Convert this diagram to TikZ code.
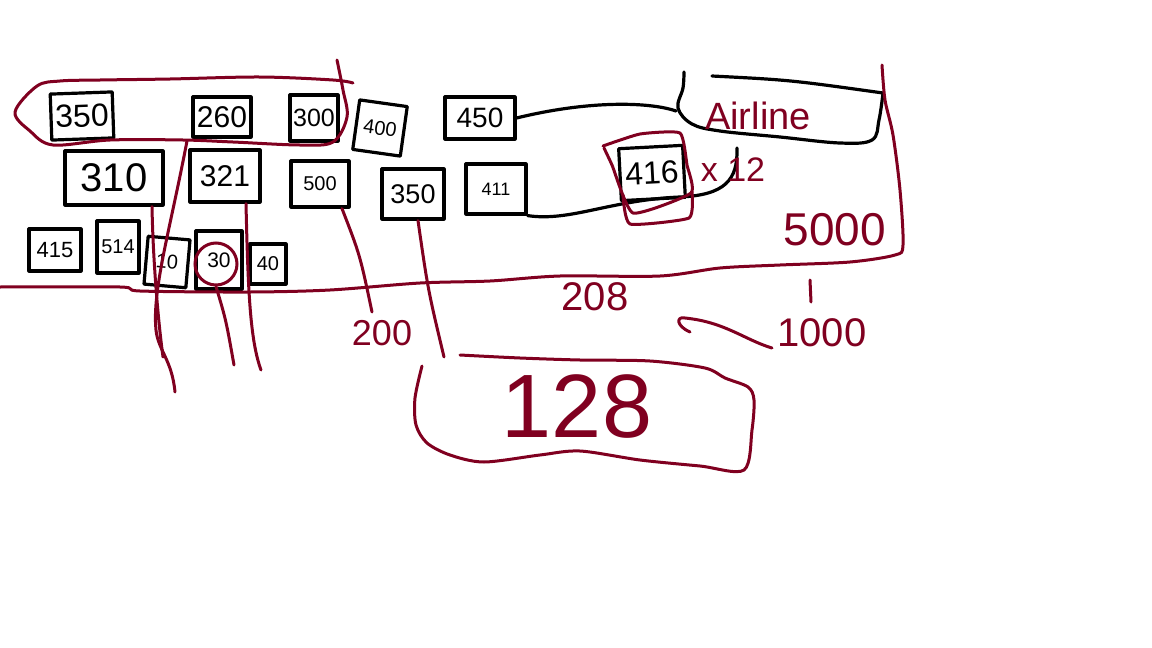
\documentclass[tikz,border=0pt]{standalone}
\usepackage{fontspec}
\setmainfont{Liberation Sans}
\usetikzlibrary{calc}
\definecolor{inkred}{RGB}{128,0,32}
\newcommand{\fs}[1]{\fontsize{#1}{#1}\selectfont}
\begin{document}
\begin{tikzpicture}[x=1pt,y=-1pt,
  box/.style={draw=black, line width=3.2pt, line join=round, inner sep=0pt},
  bink/.style={draw=black, line width=3.2pt, line cap=round, line join=round},
  rink/.style={draw=inkred, line width=3pt, line cap=round, line join=round},
  rlab/.style={text=inkred, inner sep=0pt}]
\useasboundingbox (0,0) rectangle (1152,648);
\fill[white] (0,0) rectangle (1152,648);

% black boxes
\node[box, minimum width=62pt, minimum height=46pt, rotate=2, font=\fs{32}] (b350a) at (82,116) {350};
\node[box, minimum width=58pt, minimum height=40pt, font=\fs{30}] (b260) at (222,117) {260};
\node[box, minimum width=48pt, minimum height=46pt, font=\fs{25}] (b300) at (314,118) {300};
\node[box, minimum width=48pt, minimum height=50pt, rotate=-8, font=\fs{20}] (b400) at (380,128) {400};
\node[box, minimum width=70pt, minimum height=42pt, font=\fs{28}] (b450) at (480,118) {450};
\node[box, minimum width=98pt, minimum height=54pt, font=\fs{40}] (b310) at (114,178) {310};
\node[box, minimum width=70pt, minimum height=52pt, font=\fs{30}] (b321) at (225,176) {321};
\node[box, minimum width=58pt, minimum height=46pt, font=\fs{20}] (b500) at (320,184) {500};
\node[box, minimum width=62pt, minimum height=50pt, font=\fs{27}] (b350b) at (413,194) {350};
\node[box, minimum width=60pt, minimum height=50pt, font=\fs{18}] (b411) at (496,189) {411};
\node[box, minimum width=64pt, minimum height=52pt, rotate=3, font=\fs{32}] (b416) at (652,173) {416};
\node[box, minimum width=52pt, minimum height=42pt, font=\fs{22}] (b415) at (55,250) {415};
\node[box, minimum width=42pt, minimum height=52pt, font=\fs{20}] (b514) at (118,247) {514};
\node[box, minimum width=42pt, minimum height=48pt, rotate=-5, font=\fs{20}] (b10) at (167,262) {10};
\node[box, minimum width=46pt, minimum height=58pt, font=\fs{21}] (b30) at (219,260) {30};
\node[box, minimum width=36pt, minimum height=40pt, font=\fs{20}] (b40) at (268,264) {40};

% Airline shape
\draw[bink] (712,76) .. controls (790,80) .. (883,93);
\draw[bink] plot[smooth, tension=0.6] coordinates {(883,93) (879,120) (872,140) (840,143) (780,137) (720,131) (692,124) (678,108) (683,88) (684,72)};
\node[rlab, font=\fs{38}] (airline) at (758,116) {Airline};
\coordinate (airL) at (676,111);
\coordinate (x12top) at (737,148);

% black connectors
\draw[bink] (b450.east) .. controls (590,100) and (650,102) .. (airL);
\draw[bink] (b411.south east) .. controls (570,222) and (610,200) .. (680,197) .. controls (725,195) and (738,180) .. (x12top);

% red loop around top group
\coordinate (loopB) at (187,141);
\draw[rink] plot[smooth, tension=0.55] coordinates {(353,83) (333,80) (260,77) (170,79) (100,80) (60,81) (37,86) (15,112) (30,131) (53,145) (110,140) (183,140) (233,142) (300,145) (333,142) (347,117) (343,90) (337,60)};

% red area boundary
\draw[rink] plot[smooth, tension=0.5] coordinates {(0,287) (120,287) (140,291) (250,292) (330,290) (420,283) (490,281) (560,276) (660,276) (720,268) (780,265) (850,262) (895,255) (903,245) (900,190) (893,135) (885,100) (882,65)};

% red box around 416
\draw[rink] plot[smooth, tension=0.3] coordinates {(603,146) (640,134) (680,133) (687,165) (691,193) (633,213) (612,165) (604,148)};
\draw[rink] plot[smooth, tension=0.3] coordinates {(623,195) (630,224) (689,218) (692,192)};

% red circle around 30
\node[draw=inkred, line width=3pt, circle, minimum size=42pt, inner sep=0pt] (r30) at (216,264) {};

% red down lines
\coordinate (c1) at (163,357);
\coordinate (c2) at (175,392);
\coordinate (c3) at (261,370);
\coordinate (c4) at (234,365);
\coordinate (c5) at (372,312);
\coordinate (c6) at (444,357);
\draw[rink] ($(b310.south)+(38,0)$) .. controls (153,260) and (158,320) .. (c1);
\draw[rink] (loopB) .. controls (170,230) and (152,290) .. (156,330) .. controls (158,350) and (172,360) .. (c2);
\draw[rink] ($(b321.south)+(21,0)$) .. controls (248,290) and (250,340) .. (c3);
\draw[rink] (r30.south) .. controls (226,320) .. (c4);
\draw[rink] ($(b500.south)+(22,0)$) .. controls (360,255) .. (c5);
\draw[rink] ($(b350b.south)+(5,0)$) .. controls (428,290) .. (c6);

% red labels
\node[rlab, font=\fs{34}] (x12) at (733,170) {x 12};
\node[rlab, font=\fs{46}] (l5000) at (835,230) {5000};
\node[rlab, font=\fs{40}] (l208) at (595,297) {208};
\node[rlab, font=\fs{36}] (l200) at (382,333) {200};
\node[rlab, font=\fs{40}] (l1000) at (822,333) {1000};

% tick above 1000
\coordinate (t1) at (810,280);
\coordinate (t2) at (811,302);
\draw[rink] (t1) -- (t2);

% hooked arrow
\coordinate (arrT) at (772,348);
\coordinate (arrH) at (685,318);
\draw[rink] (arrT) .. controls (745,340) and (725,322) .. (arrH) .. controls (676,316) and (676,326) .. (690,332);

% bottom blob with 128
\draw[rink] plot[smooth, tension=0.5] coordinates {(460,355) (520,358) (580,360) (650,361) (705,368) (725,378) (748,387) (754,400) (752,430) (744,470) (700,466) (640,460) (580,451) (540,455) (484,462) (450,455) (427,443) (416,425) (415,398) (422,366)};
\node[rlab, font=\fs{90}] (l128) at (577,407) {128};
\end{tikzpicture}
\end{document}
